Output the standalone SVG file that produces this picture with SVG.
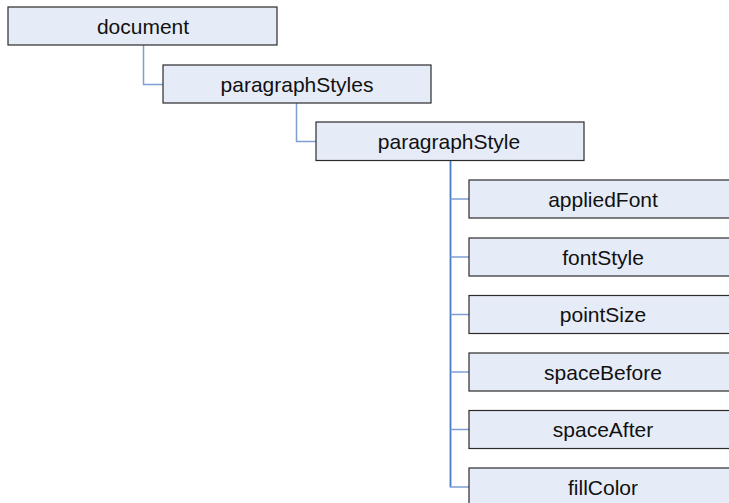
<svg xmlns="http://www.w3.org/2000/svg" width="729" height="503" viewBox="0 0 729 503">
<style>
.box{fill:#e6ecf7;stroke:#2b2b2b;stroke-width:1.2}
.lbl{font-family:"Liberation Sans",Arial,sans-serif;font-size:21px;fill:#111;text-anchor:middle;dominant-baseline:central}
.c{fill:none;stroke:#7d9fd3;stroke-width:1.5}
.t{fill:none;stroke:#4a7cc6;stroke-width:1.8}
</style>
<rect width="729" height="503" fill="#ffffff"/>
<g id="connectors">
<polyline class="c" points="143.5,45 143.5,84.5 163,84.5"/>
<polyline class="c" points="296.5,103 296.5,141.5 316,141.5"/>
<line class="t" x1="450.5" y1="160.5" x2="450.5" y2="487"/>
<line class="c" x1="450.5" y1="199" x2="469" y2="199"/>
<line class="c" x1="450.5" y1="257" x2="469" y2="257"/>
<line class="c" x1="450.5" y1="314.5" x2="469" y2="314.5"/>
<line class="c" x1="450.5" y1="372" x2="469" y2="372"/>
<line class="c" x1="450.5" y1="429.5" x2="469" y2="429.5"/>
<polyline class="c" points="450.5,486 450.5,487 469,487"/>
</g>
<g id="document"><rect class="box" x="8" y="7" width="269" height="38"/><text class="lbl" x="143" y="26">document</text></g>
<g id="paragraphStyles"><rect class="box" x="163" y="65" width="268" height="38"/><text class="lbl" x="297" y="84">paragraphStyles</text></g>
<g id="paragraphStyle"><rect class="box" x="316" y="122" width="268" height="38.5"/><text class="lbl" x="449" y="141">paragraphStyle</text></g>
<g id="appliedFont"><rect class="box" x="469" y="180" width="268" height="38"/><text class="lbl" x="603" y="199">appliedFont</text></g>
<g id="fontStyle"><rect class="box" x="469" y="238" width="268" height="38"/><text class="lbl" x="603" y="257">fontStyle</text></g>
<g id="pointSize"><rect class="box" x="469" y="295.5" width="268" height="38"/><text class="lbl" x="603" y="314.5">pointSize</text></g>
<g id="spaceBefore"><rect class="box" x="469" y="353" width="268" height="38"/><text class="lbl" x="603" y="372">spaceBefore</text></g>
<g id="spaceAfter"><rect class="box" x="469" y="410.5" width="268" height="38"/><text class="lbl" x="603" y="429.5">spaceAfter</text></g>
<g id="fillColor"><rect class="box" x="469" y="468" width="268" height="38"/><text class="lbl" x="603" y="487">fillColor</text></g>
</svg>
